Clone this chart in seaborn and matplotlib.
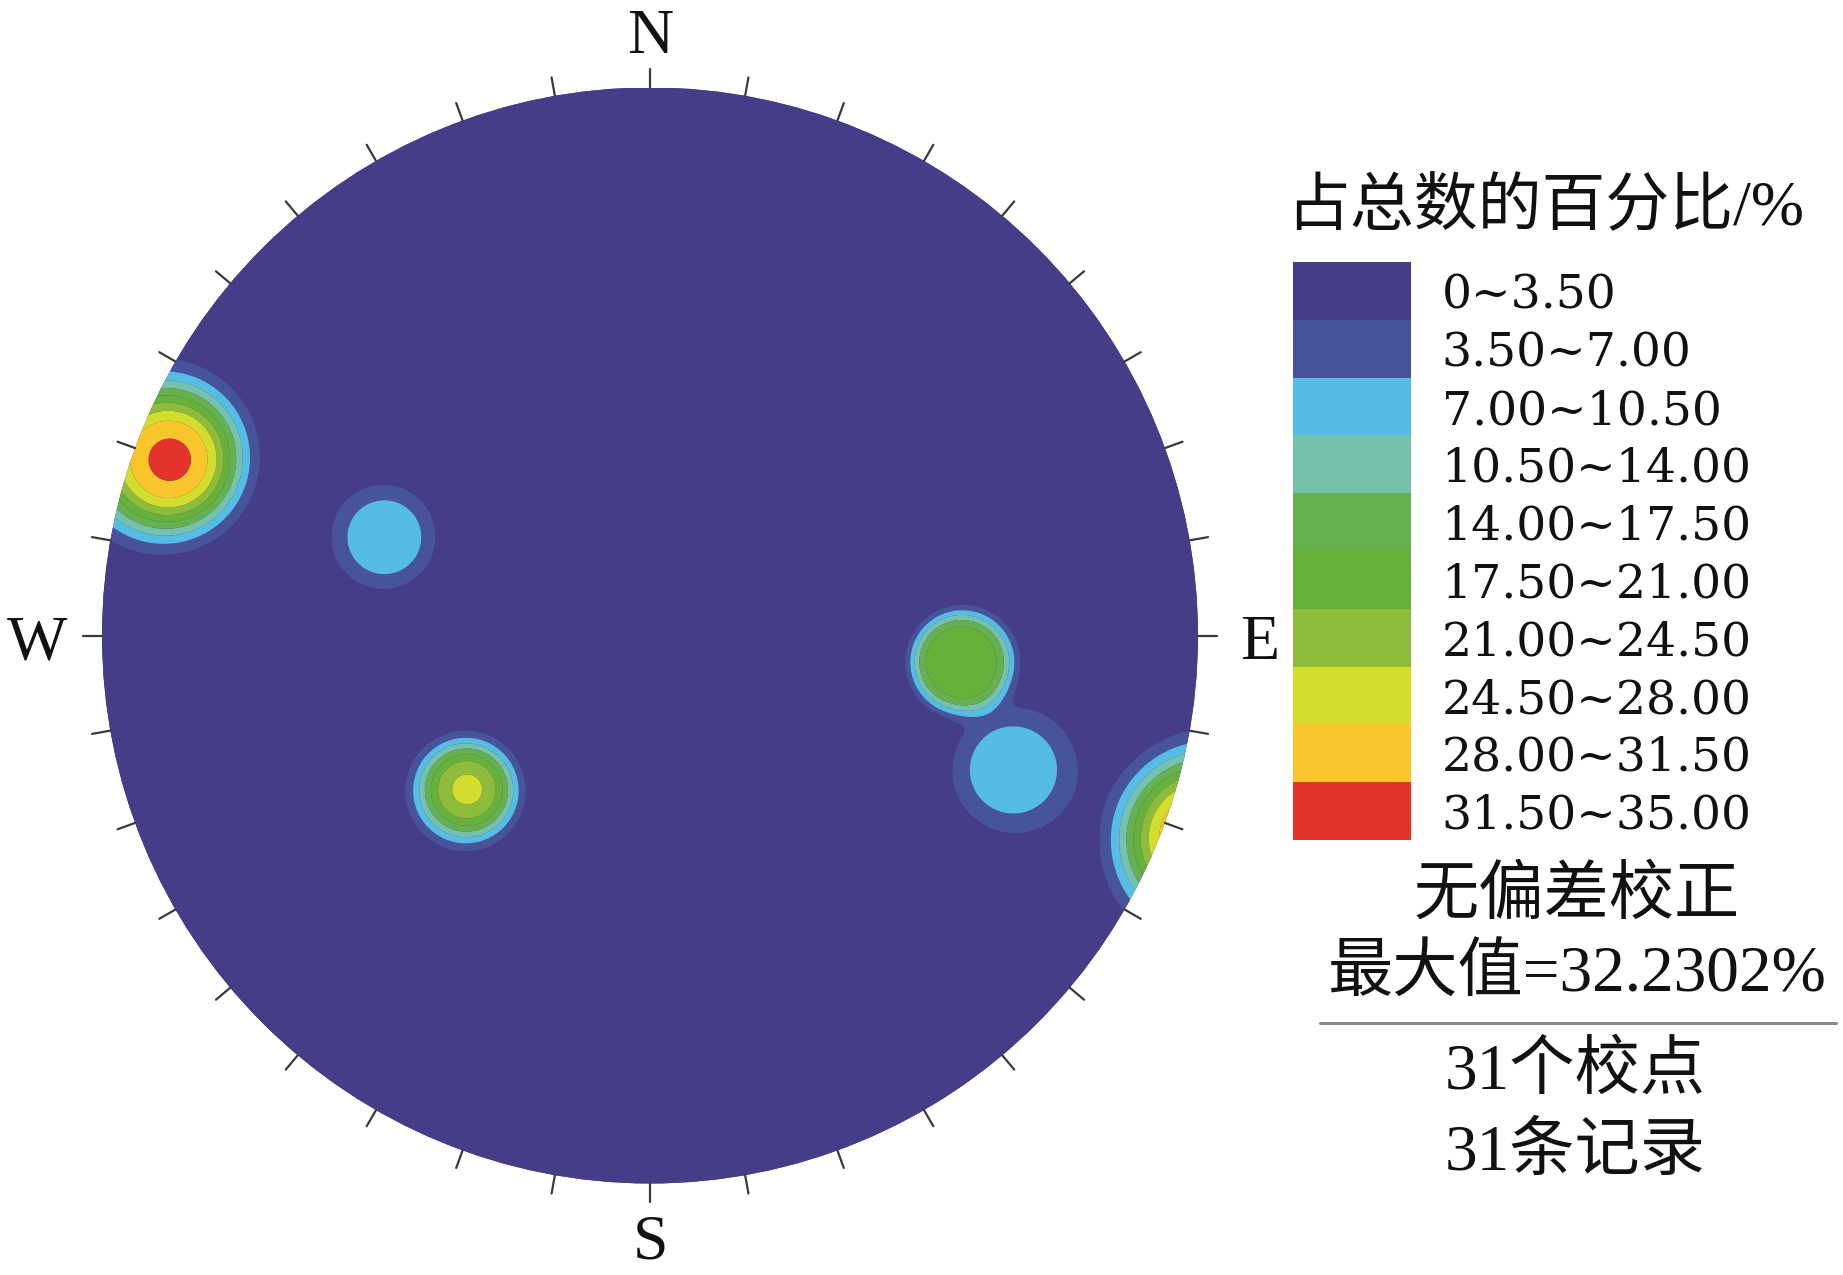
import numpy as np
import matplotlib
matplotlib.use("Agg")
import matplotlib.pyplot as plt
from matplotlib.patches import Circle
from matplotlib.lines import Line2D
import seaborn as sns

# ---------------- data ----------------
# pole clusters on the lower-hemisphere equal-angle (stereographic) net
cluster_trend = [290.1, 290.3, 229.9, 94.9, 110.3]      # degrees
cluster_plunge = [4.0, 35.5, 42.9, 30.8, 19.7]          # degrees
cluster_peak = [32.23, 9.8, 25.0, 20.5, 9.5]            # percent of total
cluster_width = [0.145, 0.148, 0.150, 0.141, 0.152]     # angular half-width (rad)
cluster_shape = [3.0, 3.3, 3.3, 5.0, 3.3]               # kernel sharpness

levels = [0, 3.5, 7.0, 10.5, 14.0, 17.5, 21.0, 24.5, 28.0, 31.5, 35.0]
band_labels = ["0~3.50", "3.50~7.00", "7.00~10.50", "10.50~14.00", "14.00~17.50",
               "17.50~21.00", "21.00~24.50", "24.50~28.00", "28.00~31.50", "31.50~35.00"]
band_colors = ["#453d87", "#47549c", "#55bde5", "#74c1ad", "#66b14e",
               "#66b13a", "#8dbb3a", "#d3dd2c", "#f8c62b", "#e4322d"]
tick_azimuths = list(range(0, 360, 10))
compass = ["N", "E", "S", "W"]
legend_title = "占总数的百分比/%"
info_lines = ["无偏差校正", "最大值=32.2302%"]
count_lines = ["31个校点", "31条记录"]

# ---------------- style ----------------
sns.set_theme(style="white")
plt.rcParams["font.family"] = ["Liberation Serif", "Noto Sans CJK SC", "DejaVu Sans"]
palette = sns.color_palette(band_colors)

W, H = 1843, 1275
fig = plt.figure(figsize=(W / 100, H / 100), dpi=100)
fig.patch.set_facecolor("white")

cx, cy, R = 650.0, 635.5, 548.0
ax = fig.add_axes([(cx - R) / W, (H - (cy + R)) / H, 2 * R / W, 2 * R / H])
ax.set_xlim(-1, 1)
ax.set_ylim(-1, 1)
ax.set_aspect("equal")
ax.axis("off")

# ---------------- density field ----------------
g = np.linspace(-1.02, 1.02, 801)
X, Y = np.meshgrid(g, g)
r = np.minimum(np.hypot(X, Y), 1.0)
theta = 2 * np.arctan(r)
T = np.arctan2(X, Y)
d = np.stack([np.sin(theta) * np.sin(T), np.sin(theta) * np.cos(T), -np.cos(theta)])
Z = np.zeros_like(X)
for tr, pl, A, w, k in zip(cluster_trend, cluster_plunge, cluster_peak,
                           cluster_width, cluster_shape):
    t, p = np.radians(tr), np.radians(pl)
    pv = np.array([np.cos(p) * np.sin(t), np.cos(p) * np.cos(t), -np.sin(p)])
    c = np.abs(np.tensordot(pv, d, axes=1))
    alpha = np.arccos(np.clip(c, 0, 1))
    Z += A * np.exp(-(alpha / w) ** k)
Z = np.clip(Z, 1e-6, levels[-1] - 1e-6)

disc = Circle((0, 0), 1.0, facecolor=band_colors[0], edgecolor="none", zorder=0)
ax.add_patch(disc)
cs = ax.contourf(X, Y, Z, levels=levels, colors=palette, zorder=1, antialiased=True)
clip = Circle((0, 0), 1.0, transform=ax.transData)
cs.set_clip_path(clip)

# ---------------- ticks and compass letters ----------------
for az in tick_azimuths:
    a = np.radians(az)
    ax.add_line(Line2D([np.sin(a), 1.034 * np.sin(a)], [np.cos(a), 1.034 * np.cos(a)],
                       color="#3a3a3a", lw=1.6, clip_on=False, zorder=3))

letter_pos = {"N": (0.0, 1.090), "E": (1.113, -0.016), "S": (0.0, -1.110), "W": (-1.119, -0.016)}
for lab in compass:
    x, y = letter_pos[lab]
    ax.text(x, y, lab, ha="center", va="center", fontsize=46,
            family="Liberation Serif", color="#111111", clip_on=False)

# ---------------- legend ----------------
top, bot = 262, 840
cax = fig.add_axes([1293 / W, (H - bot) / H, 118 / W, (bot - top) / H])
cb = fig.colorbar(cs, cax=cax, orientation="vertical")
cb.outline.set_visible(False)
mids = [(a + b) / 2 for a, b in zip(levels[:-1], levels[1:])]
cb.set_ticks(mids)
cb.set_ticklabels(band_labels)
cax.invert_yaxis()
cax.tick_params(length=0, pad=22, labelsize=34)
for tl in cax.get_yticklabels():
    tl.set_family("DejaVu Serif")
    tl.set_color("#111111")

fig.text(1286 / W, 1 - 209 / H, legend_title, ha="left", va="center", fontsize=46,
         family=["Liberation Serif", "Noto Sans CJK SC"], color="#111111")

for txt, yy in zip(info_lines, [897, 976]):
    fig.text(1577 / W, 1 - yy / H, txt, ha="center", va="center", fontsize=47,
             family=["Liberation Serif", "Noto Sans CJK SC"], color="#111111")
fig.add_artist(Line2D([1320 / W, 1836 / W], [1 - 1023 / H, 1 - 1023 / H],
                      color="#8a8a8a", lw=2.2, transform=fig.transFigure))
for txt, yy in zip(count_lines, [1072, 1154]):
    fig.text(1575 / W, 1 - yy / H, txt, ha="center", va="center", fontsize=47,
             family=["Liberation Serif", "Noto Sans CJK SC"], color="#111111")

fig.savefig("out.png", dpi=100, facecolor="white")
